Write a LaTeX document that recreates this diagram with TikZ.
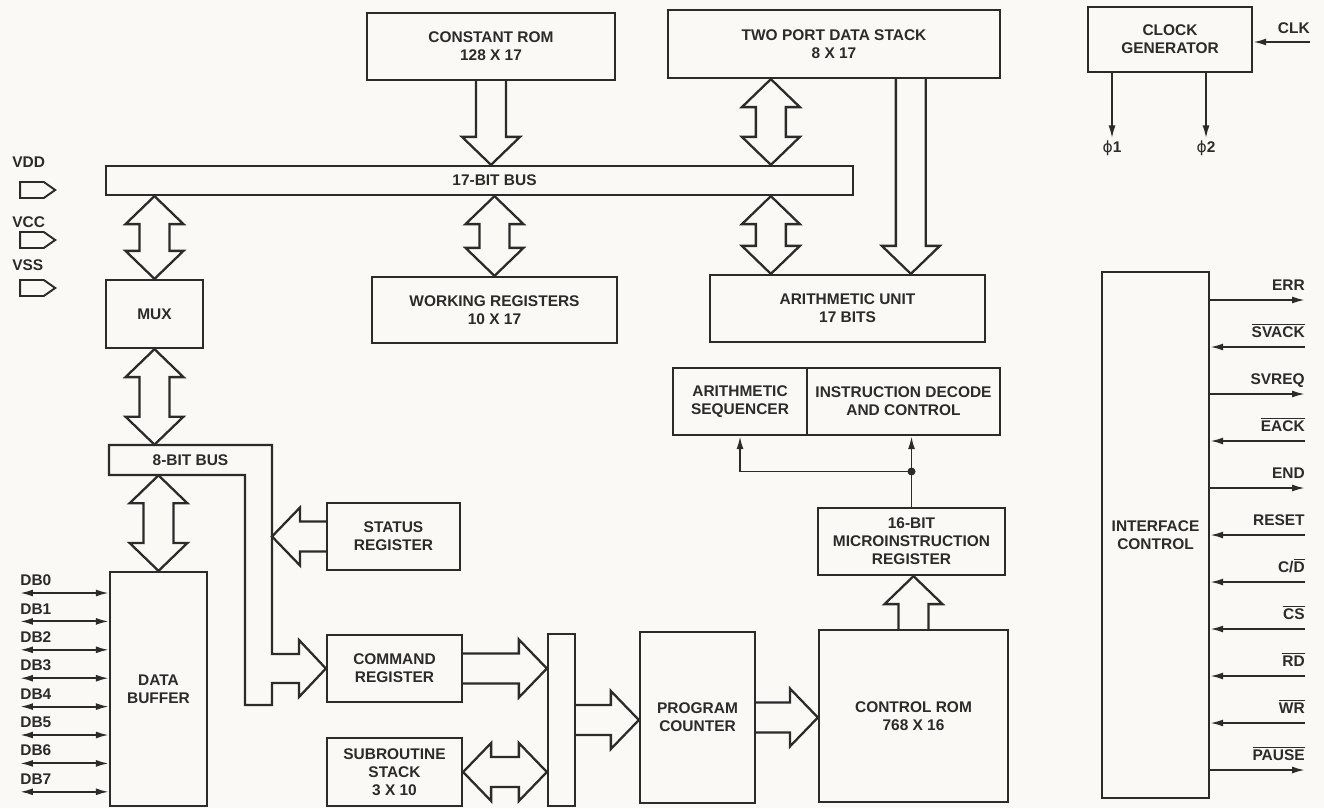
\documentclass[tikz,border=0pt]{standalone}
\usepackage{fontspec}
\setmainfont{Liberation Sans}
\newfontfamily\phifont{DejaVu Sans}
\usetikzlibrary{positioning, arrows.meta, calc, shapes.symbols}
\definecolor{ink}{RGB}{45,43,41}
\definecolor{paper}{RGB}{250,249,246}

\begin{document}
\begin{tikzpicture}[x=0.02cm, y=-0.02cm,
    every node/.style={font=\fontsize{8.8}{10.3}\selectfont\bfseries, text=ink},
    % Styles
    block/.style={draw=ink, line width=1.3pt, align=center, inner sep=2pt},
    busline/.style={draw=ink, line width=1.3pt, line join=miter},
    wire/.style={draw=ink, line width=1.1pt},
    tip/.style={-{Latex[length=2.6mm, width=1.4mm]}},
    twotip/.style={{Latex[length=2.6mm, width=1.4mm]}-{Latex[length=2.6mm, width=1.4mm]}},
    pinlabel/.style={anchor=south west, inner xsep=0pt, inner ysep=4pt},
    siglabel/.style={anchor=south east, inner xsep=0pt, inner ysep=5pt, text depth=0pt},
    supply/.style={draw=ink, line width=1.1pt, signal, signal to=east, signal pointer angle=70, minimum width=0.7cm, minimum height=0.32cm, inner sep=0pt},
]

\fill[paper] (0,0) rectangle (1324,808);
\useasboundingbox (0,0) rectangle (1324,808);

% Hollow bus arrows: tip at #2
\def\shaftw{0.3cm}
\def\headw{0.58cm}
\def\headlen{0.56cm}
\def\busarrow#1#2{
    \coordinate (ba-s) at (#1);
    \coordinate (ba-t) at (#2);
    \coordinate (ba-h) at ($(ba-t)!\headlen!(ba-s)$);
    \draw[busline] ($(ba-s)!\shaftw!90:(ba-t)$) -- ($(ba-h)!\shaftw!90:(ba-t)$)
        -- ($(ba-h)!\headw!90:(ba-t)$) -- (ba-t) -- ($(ba-h)!\headw!-90:(ba-t)$)
        -- ($(ba-h)!\shaftw!-90:(ba-t)$) -- ($(ba-s)!\shaftw!-90:(ba-t)$);
}
% Hollow bus arrows: tips at both ends
\def\dualarrow#1#2{
    \coordinate (ba-s) at (#1);
    \coordinate (ba-t) at (#2);
    \coordinate (ba-g) at ($(ba-s)!\headlen!(ba-t)$);
    \coordinate (ba-h) at ($(ba-t)!\headlen!(ba-s)$);
    \draw[busline] (ba-s) -- ($(ba-g)!\headw!90:(ba-t)$) -- ($(ba-g)!\shaftw!90:(ba-t)$)
        -- ($(ba-h)!\shaftw!90:(ba-t)$) -- ($(ba-h)!\headw!90:(ba-t)$) -- (ba-t)
        -- ($(ba-h)!\headw!-90:(ba-t)$) -- ($(ba-h)!\shaftw!-90:(ba-t)$)
        -- ($(ba-g)!\shaftw!-90:(ba-t)$) -- ($(ba-g)!\headw!-90:(ba-t)$) -- cycle;
}

% Supply pins
\node[anchor=west, inner xsep=0pt] (vddlbl) at (12,162) {VDD};
\node[supply] (vdd) at (32,190) {};
\node[anchor=west, inner xsep=0pt] (vcclbl) at (12,222) {VCC};
\node[supply] (vcc) at (32,240) {};
\node[anchor=west, inner xsep=0pt] (vsslbl) at (12,265) {VSS};
\node[supply] (vss) at (32,288) {};

% Top row
\node[block, minimum width=4.96cm, minimum height=1.34cm] (crom) at (491,46.5) {CONSTANT ROM\\128 X 17};
\node[block, minimum width=6.64cm, minimum height=1.36cm] (dstack) at (834,44) {TWO PORT DATA STACK\\8 X 17};
\node[block, minimum width=3.28cm, minimum height=1.3cm] (clkgen) at (1170,39.5) {CLOCK\\GENERATOR};

% 17-bit bus and what hangs on it
\node[block, minimum width=14.94cm, minimum height=0.58cm, label={[xshift=0.3cm]center:17-BIT BUS}] (bus17) at (479.5,180.5) {};
\node[block, minimum width=4.9cm, minimum height=1.32cm] (wreg) at (494.5,310) {WORKING REGISTERS\\10 X 17};
\node[block, minimum width=1.94cm, minimum height=1.36cm] (mux) at (154.5,314) {MUX};
\node[block, minimum width=5.5cm, minimum height=1.34cm] (au) at (847.5,308.5) {ARITHMETIC UNIT\\17 BITS};

% 8-bit side
\node[minimum width=3.26cm, minimum height=0.6cm, inner sep=0pt] (bus8) at (190.5,460) {8-BIT BUS};
\node[block, minimum width=1.94cm, minimum height=4.68cm] (dbuf) at (158.5,689) {DATA\\BUFFER};
\node[block, minimum width=2.66cm, minimum height=1.34cm] (status) at (393.5,536.5) {STATUS\\REGISTER};
\node[block, minimum width=2.7cm, minimum height=1.34cm] (cmdreg) at (394.5,668.5) {COMMAND\\REGISTER};
\node[block, minimum width=2.7cm, minimum height=1.36cm] (substack) at (394.5,772) {SUBROUTINE\\STACK\\3 X 10};

% Sequencing
\node[block, minimum width=0.54cm, minimum height=3.44cm] (pcbus) at (561.5,720) {};
\node[block, minimum width=2.3cm, minimum height=3.42cm] (pc) at (697.5,717.5) {PROGRAM\\COUNTER};
\node[block, minimum width=3.78cm, minimum height=3.44cm] (ctlrom) at (913.5,716) {CONTROL ROM\\768 X 16};
\node[block, minimum width=3.74cm, minimum height=1.34cm] (mir) at (911.5,541.5) {16-BIT\\MICROINSTRUCTION\\REGISTER};
\node[block, minimum width=2.68cm, minimum height=1.34cm] (aseq) at (740,401.5) {ARITHMETIC\\SEQUENCER};
\node[block, minimum width=3.86cm, minimum height=1.34cm] (idec) at (903.5,401.5) {INSTRUCTION DECODE\\AND CONTROL};

% Interface
\node[block, minimum width=2.14cm, minimum height=10.52cm] (iface) at (1155.5,535) {INTERFACE\\CONTROL};

% Wide data paths
\busarrow{crom.south}{crom.south |- bus17.north}
\dualarrow{wreg.north |- bus17.south}{wreg.north}
\coordinate (dsl) at ([xshift=2.08cm]dstack.south west);
\coordinate (dsr) at ([xshift=4.88cm]dstack.south west);
\dualarrow{dsl}{dsl |- bus17.north}
\dualarrow{dsl |- bus17.south}{dsl |- au.north}
\busarrow{dsr}{dsr |- au.north}
\dualarrow{mux.north |- bus17.south}{mux.north}
\dualarrow{mux.south}{mux.south |- bus8.north}
\dualarrow{dbuf.north |- bus8.south}{dbuf.north}

% 8-bit bus bends down into the command register
\draw[busline] (109,445) -- (272,445) -- (272,654) -- (299,654) -- (299,640) -- (cmdreg.west)
    -- (299,697) -- (299,683) -- (272,683) -- (272,705) -- (245,705) -- (245,475) -- (109,475) -- cycle;
\coordinate (b8edge) at (272,445);
\busarrow{status.west}{b8edge |- status.west}

\busarrow{cmdreg.east}{cmdreg.east -| pcbus.west}
\dualarrow{substack.east}{substack.east -| pcbus.west}
\busarrow{pcbus.east}{pcbus.east -| pc.west}
\busarrow{pc.east}{pc.east -| ctlrom.west}
\busarrow{ctlrom.north}{ctlrom.north |- mir.south}

% Microinstruction fan-out
\coordinate (jn) at ($(mir.north)!0.5!(mir.north |- idec.south)$);
\draw[wire, tip] (mir.north) -- (mir.north |- idec.south);
\draw[wire, tip] (jn) -| (aseq.south);
\fill[ink] (jn) circle (0.08cm);

% Clock
\node[anchor=south east, inner xsep=0pt, inner ysep=4.5pt] (clklbl) at (1310,42) {CLK};
\draw[wire, tip] (clklbl.south east) -- (clklbl.south east -| clkgen.east);
\node[inner sep=1pt] (phi1) at (1112,148) {{\phifont\mdseries ϕ}1};
\node[inner sep=1pt] (phi2) at (1206,148) {{\phifont\mdseries ϕ}2};
\draw[wire, tip] (phi1.north |- clkgen.south) -- (phi1.north);
\draw[wire, tip] (phi2.north |- clkgen.south) -- (phi2.north);

% Data bus pins
\node[pinlabel] (db0) at (20,593) {DB0};
\node[pinlabel] (db1) at (20,621.4) {DB1};
\node[pinlabel] (db2) at (20,649.8) {DB2};
\node[pinlabel] (db3) at (20,678.2) {DB3};
\node[pinlabel] (db4) at (20,706.6) {DB4};
\node[pinlabel] (db5) at (20,735) {DB5};
\node[pinlabel] (db6) at (20,763.4) {DB6};
\node[pinlabel] (db7) at (20,791.8) {DB7};
\draw[wire, twotip] (db0.south west) -- (db0.south west -| dbuf.west);
\draw[wire, twotip] (db1.south west) -- (db1.south west -| dbuf.west);
\draw[wire, twotip] (db2.south west) -- (db2.south west -| dbuf.west);
\draw[wire, twotip] (db3.south west) -- (db3.south west -| dbuf.west);
\draw[wire, twotip] (db4.south west) -- (db4.south west -| dbuf.west);
\draw[wire, twotip] (db5.south west) -- (db5.south west -| dbuf.west);
\draw[wire, twotip] (db6.south west) -- (db6.south west -| dbuf.west);
\draw[wire, twotip] (db7.south west) -- (db7.south west -| dbuf.west);

% Handshake and control pins
\node[siglabel] (err) at (1305,300) {ERR};
\node[siglabel] (svack) at (1305,347) {$\overline{\mbox{SVACK}}$};
\node[siglabel] (svreq) at (1305,394) {SVREQ};
\node[siglabel] (eack) at (1305,441) {$\overline{\mbox{EACK}}$};
\node[siglabel] (endsig) at (1305,488) {END};
\node[siglabel] (reset) at (1305,535) {RESET};
\node[siglabel] (cd) at (1305,582) {C/$\overline{\mbox{D}}$};
\node[siglabel] (cs) at (1305,629) {$\overline{\mbox{CS}}$};
\node[siglabel] (rd) at (1305,676) {$\overline{\mbox{RD}}$};
\node[siglabel] (wr) at (1305,723) {$\overline{\mbox{WR}}$};
\node[siglabel] (pause) at (1305,770) {$\overline{\mbox{PAUSE}}$};
\draw[wire, tip] (iface.east |- err.south) -- (err.south east);
\draw[wire, tip] (svack.south east) -- (iface.east |- svack.south);
\draw[wire, tip] (iface.east |- svreq.south) -- (svreq.south east);
\draw[wire, tip] (eack.south east) -- (iface.east |- eack.south);
\draw[wire, tip] (iface.east |- endsig.south) -- (endsig.south east);
\draw[wire, tip] (reset.south east) -- (iface.east |- reset.south);
\draw[wire, tip] (cd.south east) -- (iface.east |- cd.south);
\draw[wire, tip] (cs.south east) -- (iface.east |- cs.south);
\draw[wire, tip] (rd.south east) -- (iface.east |- rd.south);
\draw[wire, tip] (wr.south east) -- (iface.east |- wr.south);
\draw[wire, tip] (iface.east |- pause.south) -- (pause.south east);

\end{tikzpicture}
\end{document}
